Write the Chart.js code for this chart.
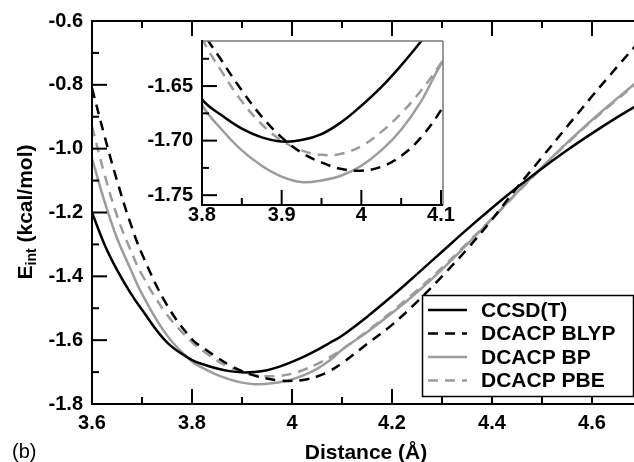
<!DOCTYPE html>
<html>
<head>
<meta charset="utf-8">
<script src="https://cdn.jsdelivr.net/npm/chart.js@4/dist/chart.umd.min.js"></script>
<style>
  html, body { margin: 0; padding: 0; background: #fff; }
  #wrap { position: relative; width: 634px; height: 462px; }
  #wrap canvas { position: absolute; left: 0; top: 0; }
</style>
</head>
<body>
<div id="wrap">
  <canvas id="mainChart" width="634" height="462"></canvas>
  <canvas id="insetChart" width="634" height="462"></canvas>
</div>
<script>
// distance (Å) and interaction energies (kcal/mol)
const distance = [3.6, 3.625, 3.65, 3.675, 3.7, 3.75, 3.8, 3.825, 3.85, 3.875, 3.9, 3.925, 3.95, 3.975,
                  4.0, 4.025, 4.05, 4.075, 4.1, 4.15, 4.2, 4.25, 4.3, 4.35, 4.4, 4.45, 4.5, 4.55, 4.6, 4.65, 4.7];
const ccsdT = [-1.20, -1.30, -1.38, -1.447, -1.505, -1.607, -1.662, -1.677, -1.689, -1.697, -1.7008, -1.6995, -1.694, -1.683,
               -1.668, -1.651, -1.631, -1.609, -1.586, -1.527, -1.462, -1.393, -1.323, -1.253, -1.186, -1.122, -1.062, -1.005, -0.952, -0.902, -0.855];
const blyp = [-0.81, -0.96, -1.10, -1.225, -1.33, -1.49, -1.597, -1.627, -1.654, -1.678, -1.697, -1.711, -1.720, -1.726,
              -1.7275, -1.724, -1.714, -1.697, -1.672, -1.612, -1.552, -1.48, -1.40, -1.315, -1.222, -1.122, -1.027, -0.931, -0.836, -0.744, -0.655];
const bp = [-1.03, -1.165, -1.28, -1.37, -1.455, -1.585, -1.667, -1.690, -1.709, -1.723, -1.733, -1.738, -1.7365, -1.732,
            -1.723, -1.709, -1.690, -1.664, -1.630, -1.575, -1.515, -1.45, -1.378, -1.30, -1.22, -1.137, -1.058, -0.982, -0.910, -0.843, -0.778];
const pbe = [-0.93, -1.08, -1.21, -1.31, -1.395, -1.52, -1.606, -1.637, -1.664, -1.685, -1.700, -1.709, -1.713, -1.712,
             -1.705, -1.692, -1.675, -1.654, -1.629, -1.572, -1.51, -1.444, -1.373, -1.297, -1.219, -1.139, -1.06, -0.984, -0.913, -0.846, -0.782];
const seriesLabels = ["CCSD(T)", "DCACP BLYP", "DCACP BP", "DCACP PBE"];

const mainXTicks = [3.6, 3.8, 4.0, 4.2, 4.4, 4.6];
const mainXMinor = [3.7, 3.9, 4.1, 4.3, 4.5];
const mainYTicks = [-1.8, -1.6, -1.4, -1.2, -1.0, -0.8, -0.6];
const mainYMinor = [-1.7, -1.5, -1.3, -1.1, -0.9, -0.7];
const insetXTicks = [3.8, 3.9, 4.0, 4.1];
const insetXMinor = [3.85, 3.95, 4.05];
const insetYTicks = [-1.75, -1.70, -1.65];
const insetYMinor = [-1.725, -1.675, -1.625];

Chart.defaults.font.family = "'Liberation Sans', Arial, sans-serif";
Chart.defaults.font.weight = "bold";
Chart.defaults.font.size = 20;
Chart.defaults.color = "#000";

const GRAY = "#9c9c9c";
const lineStyles = [
    { color: "#000", dash: [] },
    { color: "#000", dash: [10, 7] },
    { color: GRAY, dash: [] },
    { color: GRAY, dash: [10, 7] }
];

function makeDatasets() {
    return [ccsdT, blyp, bp, pbe].map((vals, i) => ({
        label: seriesLabels[i],
        data: vals.map((v, j) => ({ x: distance[j], y: v })),
        borderColor: lineStyles[i].color,
        borderDash: lineStyles[i].dash,
        borderWidth: 2.5,
        pointRadius: 0,
        tension: 0.4,
        fill: false
    }));
}

function setTicks(values) {
    return scale => { scale.ticks = values.map(v => ({ value: v })); };
}

// inward tick marks and the axis frame
const framePlugin = {
    id: "frame",
    afterDatasetsDraw(chart, args, opts) {
        const { ctx, chartArea: a } = chart;
        const xs = chart.scales.x, ys = chart.scales.y;
        ctx.save();
        ctx.strokeStyle = "#000";
        ctx.lineWidth = 2;
        ctx.lineCap = "butt";
        const line = (x1, y1, x2, y2) => { ctx.beginPath(); ctx.moveTo(x1, y1); ctx.lineTo(x2, y2); ctx.stroke(); };

        opts.xMajor.forEach(v => {
            const px = xs.getPixelForValue(v);
            line(px, a.bottom, px, a.bottom - opts.majorLen);
            if (opts.top) line(px, a.top, px, a.top + opts.majorLen);
        });
        opts.xMinor.forEach(v => {
            const px = xs.getPixelForValue(v);
            line(px, a.bottom, px, a.bottom - opts.minorLen);
            if (opts.top) line(px, a.top, px, a.top + opts.minorLen);
        });
        opts.yMajor.forEach(v => {
            const py = ys.getPixelForValue(v);
            line(a.left, py, a.left + opts.majorLen, py);
        });
        opts.yMinor.forEach(v => {
            const py = ys.getPixelForValue(v);
            line(a.left, py, a.left + opts.minorLen, py);
        });

        if (opts.grayTopRight) {
            ctx.strokeStyle = "#777";
            ctx.lineWidth = 1.5;
            line(a.left, a.top, a.right, a.top);
            line(a.right, a.top, a.right, a.bottom);
            ctx.strokeStyle = "#000";
            ctx.lineWidth = 2;
        } else {
            line(a.left, a.top, a.right, a.top);
        }
        line(a.left, a.top - 1, a.left, a.bottom + 1);
        line(a.left - 1, a.bottom, a.right, a.bottom);
        ctx.restore();
    }
};

const whiteAreaPlugin = {
    id: "whiteArea",
    beforeDatasetsDraw(chart) {
        const { ctx, chartArea: a } = chart;
        ctx.save();
        ctx.fillStyle = "#fff";
        ctx.fillRect(a.left, a.top, a.right - a.left, a.bottom - a.top);
        ctx.restore();
    }
};

// legend box, axis titles and the panel tag
const annotatePlugin = {
    id: "annotate",
    afterDraw(chart) {
        const ctx = chart.ctx;
        ctx.save();

        // legend
        const bx = 422, by = 295, bw = 211, bh = 101;
        ctx.fillStyle = "#fff";
        ctx.fillRect(bx, by, bw, bh);
        ctx.strokeStyle = "#000";
        ctx.lineWidth = 1.5;
        ctx.strokeRect(bx + 0.5, by + 0.5, bw, bh);
        ctx.font = "bold 21px 'Liberation Sans', Arial, sans-serif";
        ctx.textBaseline = "middle";
        ctx.textAlign = "left";
        chart.data.datasets.forEach((ds, i) => {
            const ry = by + 15 + i * 23.5;
            ctx.strokeStyle = ds.borderColor;
            ctx.lineWidth = 2.5;
            ctx.setLineDash(ds.borderDash);
            ctx.beginPath();
            ctx.moveTo(428, ry);
            ctx.lineTo(467, ry);
            ctx.stroke();
            ctx.setLineDash([]);
            ctx.fillStyle = "#000";
            ctx.fillText(ds.label, 481, ry + 1);
        });

        // x title
        ctx.textAlign = "center";
        ctx.textBaseline = "alphabetic";
        ctx.fillText("Distance (Å)", 366, 459);

        // y title with subscript
        ctx.translate(32, 212);
        ctx.rotate(-Math.PI / 2);
        const big = "bold 21px 'Liberation Sans', Arial, sans-serif";
        const small = "bold 14px 'Liberation Sans', Arial, sans-serif";
        ctx.font = big;
        const wE = ctx.measureText("E").width;
        const wRest = ctx.measureText(" (kcal/mol)").width;
        ctx.font = small;
        const wSub = ctx.measureText("int").width;
        let x0 = -(wE + wSub + wRest) / 2;
        ctx.textAlign = "left";
        ctx.font = big;
        ctx.fillText("E", x0, 0);
        ctx.font = small;
        ctx.fillText("int", x0 + wE, 4);
        ctx.font = big;
        ctx.fillText(" (kcal/mol)", x0 + wE + wSub, 0);
        ctx.restore();

        ctx.save();
        ctx.font = "20px 'Liberation Sans', Arial, sans-serif";
        ctx.fillStyle = "#000";
        ctx.textAlign = "left";
        ctx.textBaseline = "alphabetic";
        ctx.fillText("(b)", 12, 458);
        ctx.restore();
    }
};

const mainChart = new Chart(document.getElementById("mainChart"), {
    type: "line",
    data: { datasets: makeDatasets() },
    options: {
        responsive: false,
        animation: false,
        layout: { padding: { top: 20, left: 0, right: 0, bottom: 0 } },
        plugins: {
            legend: { display: false },
            tooltip: { enabled: false },
            frame: { xMajor: mainXTicks, xMinor: mainXMinor, yMajor: mainYTicks, yMinor: mainYMinor, majorLen: 15, minorLen: 7, top: true }
        },
        scales: {
            x: {
                type: "linear", min: 3.6, max: 4.684,
                grid: { display: false, drawTicks: false },
                border: { display: false },
                afterBuildTicks: setTicks(mainXTicks),
                afterFit: s => { s.height = 58; },
                ticks: { padding: 7, maxRotation: 0, callback: v => String(+v.toFixed(1)) }
            },
            y: {
                type: "linear", min: -1.8, max: -0.6,
                grid: { display: false, drawTicks: false },
                border: { display: false },
                afterBuildTicks: setTicks(mainYTicks),
                afterFit: s => { s.width = 92; },
                ticks: { padding: 9, callback: v => v.toFixed(1) }
            }
        }
    },
    plugins: [framePlugin, annotatePlugin]
});

const insetChart = new Chart(document.getElementById("insetChart"), {
    type: "line",
    data: { datasets: makeDatasets() },
    options: {
        responsive: false,
        animation: false,
        layout: { padding: { top: 41, left: 142, right: 191, bottom: 217 } },
        plugins: {
            legend: { display: false },
            tooltip: { enabled: false },
            frame: { xMajor: insetXTicks, xMinor: insetXMinor, yMajor: insetYTicks, yMinor: insetYMinor, majorLen: 15, minorLen: 7, top: false, grayTopRight: true }
        },
        scales: {
            x: {
                type: "linear", min: 3.8, max: 4.1025,
                grid: { display: false, drawTicks: false },
                border: { display: false },
                afterBuildTicks: setTicks(insetXTicks),
                afterFit: s => { s.height = 40; },
                ticks: { padding: -2, maxRotation: 0, callback: v => String(+v.toFixed(1)) }
            },
            y: {
                type: "linear", min: -1.759, max: -1.6087,
                grid: { display: false, drawTicks: false },
                border: { display: false },
                afterBuildTicks: setTicks(insetYTicks),
                afterFit: s => { s.width = 60; },
                ticks: { padding: 9, callback: v => v.toFixed(2) }
            }
        }
    },
    plugins: [whiteAreaPlugin, framePlugin]
});
</script>
</body>
</html>
